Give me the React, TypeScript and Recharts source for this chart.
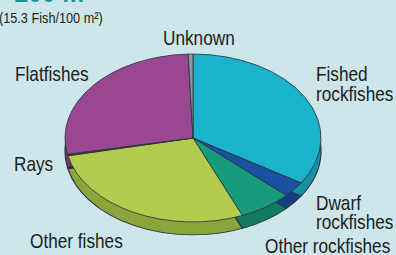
import React from 'react';
import { PieChart, Pie, Cell } from 'recharts';

// ---- data ----
const categories = [
  'Fished rockfishes',
  'Dwarf rockfishes',
  'Other rockfishes',
  'Other fishes',
  'Rays',
  'Flatfishes',
  'Unknown',
];
const shares = [34.0, 3.0, 6.7, 27.9, 0.3, 27.5, 0.6];
const labelLines = [
  ['Fished', 'rockfishes'],
  ['Dwarf', 'rockfishes'],
  ['Other rockfishes'],
  ['Other fishes'],
  ['Rays'],
  ['Flatfishes'],
  ['Unknown'],
];
const titleText = '– 200 m';
const subtitleText = '(15.3 Fish/100 m²)';

// ---- styles ----
const topColors = ['#1bb2cb', '#1b50a0', '#189b7b', '#b3cc4d', '#6b2b55', '#9a4791', '#8a9aa0'];
const sideColors = ['#1590a6', '#143e80', '#117a5f', '#8aa53a', '#4e1f3f', '#763570', '#6a7a80'];

const W = 396;
const H = 255;
const CX = 193;
const CY = 138;
const RX = 128;
const K = 0.656;
const DEPTH = 13;
const NARROW = 0.82;

const FONT = '"Liberation Sans", Arial, sans-serif';

// label anchors (text layout only)
const labelLayout: { x: number; y: number; lh: number }[] = [
  { x: 316, y: 81, lh: 20 },
  { x: 316, y: 210, lh: 19 },
  { x: 265, y: 253, lh: 20 },
  { x: 30, y: 248, lh: 20 },
  { x: 14, y: 171, lh: 20 },
  { x: 15, y: 81, lh: 20 },
  { x: 163, y: 45, lh: 20 },
];

const data = categories.map((name, i) => ({ name, value: shares[i] }));

export default function App() {
  const css = `
    .pie-squash path { transform-box: view-box; transform-origin: ${CX}px ${CY}px; transform: scaleY(${K}); }
  `;
  return (
    <div
      style={{
        position: 'absolute',
        left: 0,
        top: 0,
        width: W,
        height: H,
        background: '#cde6eb',
        overflow: 'hidden',
      }}
    >
      <style>{css}</style>
      <PieChart width={W} height={H} margin={{ top: 0, right: 0, bottom: 0, left: 0 }}>
        <Pie
          className="pie-squash"
          data={data}
          dataKey="value"
          nameKey="name"
          cx={CX}
          cy={CY + DEPTH / K}
          outerRadius={RX}
          startAngle={90}
          endAngle={-270}
          stroke="#26363c"
          strokeWidth={1.2}
          isAnimationActive={false}
          label={false}
          labelLine={false}
        >
          {data.map((d, i) => (
            <Cell key={`s-${d.name}`} fill={sideColors[i]} />
          ))}
        </Pie>
        <Pie
          className="pie-squash"
          data={data}
          dataKey="value"
          nameKey="name"
          cx={CX}
          cy={CY}
          outerRadius={RX}
          startAngle={90}
          endAngle={-270}
          stroke="#26363c"
          strokeWidth={1}
          isAnimationActive={false}
          label={false}
          labelLine={false}
        >
          {data.map((d, i) => (
            <Cell key={`t-${d.name}`} fill={topColors[i]} />
          ))}
        </Pie>
      </PieChart>
      <svg
        width={W}
        height={H}
        style={{ position: 'absolute', left: 0, top: 0, pointerEvents: 'none' }}
      >
        <g transform={`translate(-6,0) scale(${NARROW},1)`}>
          <text x={0} y={2} fill="#17949f" fontFamily={FONT} fontWeight="bold" fontSize={30}>
            {titleText}
          </text>
        </g>
        <g transform={`translate(-1,23) scale(${NARROW},1)`}>
          <text x={0} y={0} fill="#222" fontFamily={FONT} fontSize={15.5}>
            {subtitleText}
          </text>
        </g>
        {labelLines.map((lines, i) => (
          <g
            key={categories[i]}
            transform={`translate(${labelLayout[i].x},${labelLayout[i].y}) scale(${NARROW},1)`}
          >
            <text x={0} y={0} fill="#1c1c1c" fontFamily={FONT} fontSize={21}>
              {lines.map((ln, j) => (
                <tspan key={j} x={0} dy={j === 0 ? 0 : labelLayout[i].lh}>
                  {ln}
                </tspan>
              ))}
            </text>
          </g>
        ))}
      </svg>
    </div>
  );
}
